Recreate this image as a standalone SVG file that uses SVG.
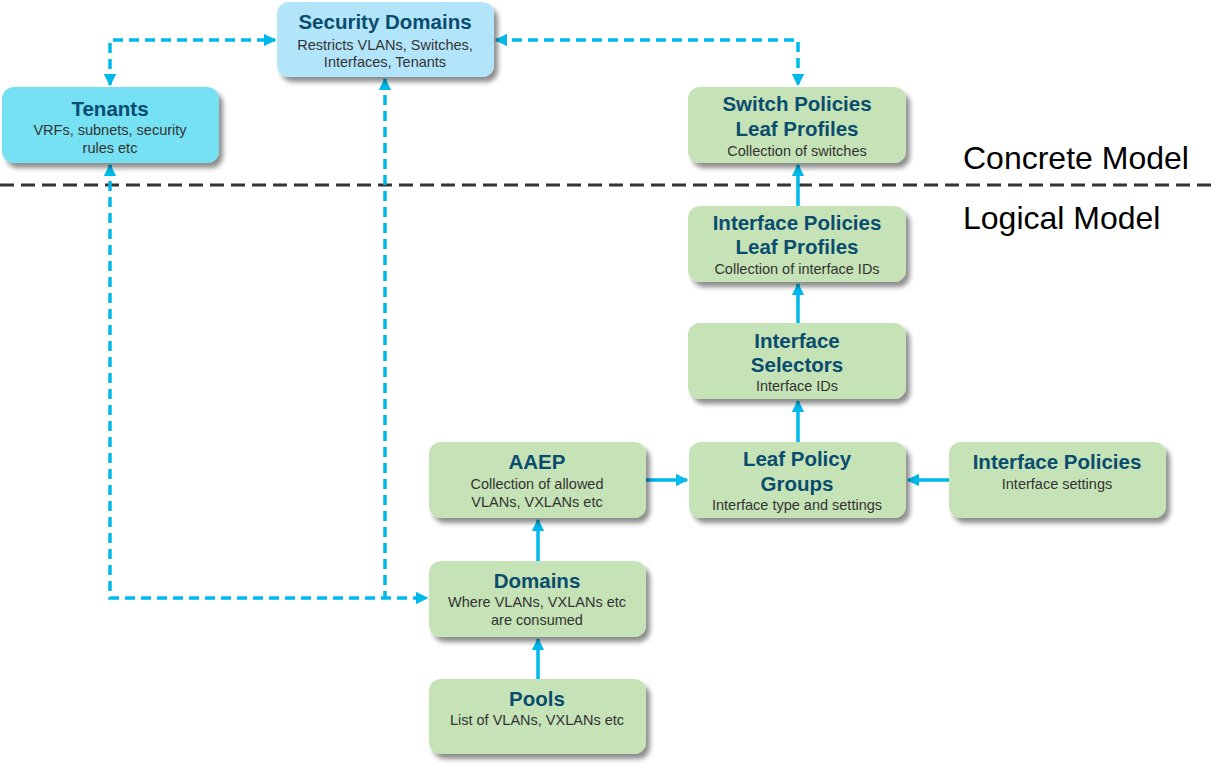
<svg xmlns="http://www.w3.org/2000/svg" width="1220" height="770" viewBox="0 0 1220 770">
<defs>
<filter id="sh" x="-10%" y="-10%" width="130%" height="140%">
<feGaussianBlur in="SourceAlpha" stdDeviation="2.5"/>
<feOffset dx="4" dy="5" result="b"/>
<feComponentTransfer><feFuncA type="linear" slope="0.45"/></feComponentTransfer>
<feMerge><feMergeNode/><feMergeNode in="SourceGraphic"/></feMerge>
</filter>
<marker id="ah" viewBox="0 0 10 10" refX="9" refY="5" markerWidth="3.6" markerHeight="3.6" orient="auto-start-reverse" markerUnits="strokeWidth">
<path d="M0,0 L10,5 L0,10 z" fill="#00B9EC"/>
</marker>
</defs>
<style>
.box{stroke:none;filter:url(#sh)}
.g{fill:#C5E3B6}
.b{fill:#B3E5FA}
.c{fill:#74E1F2}
.t{font-family:"Liberation Sans",Arial,sans-serif;font-weight:bold;font-size:20.5px;fill:#0A4C6E;text-anchor:middle}
.s{font-family:"Liberation Sans",Arial,sans-serif;font-size:14.5px;fill:#333;text-anchor:middle}
.m{font-family:"Liberation Sans",Arial,sans-serif;font-size:32px;fill:#000}
.sol{fill:none;stroke:#00B9EC;stroke-width:3.5}
.dsh{fill:none;stroke:#00B9EC;stroke-width:3.5;stroke-dasharray:10,6}
</style>
<rect width="1220" height="770" fill="#fff"/>
<line x1="0" y1="185" x2="1212" y2="185" stroke="#333" stroke-width="3" stroke-dasharray="14,7"/>
<text class="m" x="963" y="169">Concrete Model</text>
<text class="m" x="963" y="229">Logical Model</text>

<g id="connectors">
<path class="dsh" d="M110,85 L110,40 L275,40" marker-start="url(#ah)" marker-end="url(#ah)"/>
<path class="dsh" d="M496,40 L798,40 L798,85" marker-start="url(#ah)" marker-end="url(#ah)"/>
<path class="dsh" d="M110,165 L110,598 L427,598" marker-start="url(#ah)" marker-end="url(#ah)"/>
<path class="dsh" d="M385,79 L385,598" marker-start="url(#ah)"/>
<path class="sol" d="M798,206 L798,165" marker-end="url(#ah)"/>
<path class="sol" d="M798,323 L798,284" marker-end="url(#ah)"/>
<path class="sol" d="M798,442 L798,401" marker-end="url(#ah)"/>
<path class="sol" d="M646,480 L687,480" marker-end="url(#ah)"/>
<path class="sol" d="M949,480 L908,480" marker-end="url(#ah)"/>
<path class="sol" d="M538,561 L538,520" marker-end="url(#ah)"/>
<path class="sol" d="M538,679 L538,639" marker-end="url(#ah)"/>
</g>

<g id="security-domains">
<rect class="box b" x="277" y="2" width="217" height="75" rx="12"/>
<text class="t" x="385" y="29">Security Domains</text>
<text class="s" x="385" y="50">Restricts VLANs, Switches,</text>
<text class="s" x="385" y="67">Interfaces, Tenants</text>
</g>
<g id="tenants">
<rect class="box c" x="2" y="87" width="217" height="76" rx="12"/>
<text class="t" x="110" y="116">Tenants</text>
<text class="s" x="110" y="135">VRFs, subnets, security</text>
<text class="s" x="110" y="153">rules etc</text>
</g>
<g id="switch-policies">
<rect class="box g" x="688" y="87" width="218" height="76" rx="12"/>
<text class="t" x="797" y="111">Switch Policies</text>
<text class="t" x="797" y="136">Leaf Profiles</text>
<text class="s" x="797" y="156">Collection of switches</text>
</g>
<g id="interface-policies-leaf-profiles">
<rect class="box g" x="688" y="206" width="218" height="76" rx="12"/>
<text class="t" x="797" y="230">Interface Policies</text>
<text class="t" x="797" y="254">Leaf Profiles</text>
<text class="s" x="797" y="274">Collection of interface IDs</text>
</g>
<g id="interface-selectors">
<rect class="box g" x="688" y="323" width="218" height="76" rx="12"/>
<text class="t" x="797" y="348">Interface</text>
<text class="t" x="797" y="372">Selectors</text>
<text class="s" x="797" y="391">Interface IDs</text>
</g>
<g id="leaf-policy-groups">
<rect class="box g" x="689" y="442" width="217" height="76" rx="12"/>
<text class="t" x="797" y="466">Leaf Policy</text>
<text class="t" x="797" y="491">Groups</text>
<text class="s" x="797" y="510">Interface type and settings</text>
</g>
<g id="interface-policies">
<rect class="box g" x="949" y="442" width="217" height="76" rx="12"/>
<text class="t" x="1057" y="469">Interface Policies</text>
<text class="s" x="1057" y="489">Interface settings</text>
</g>
<g id="aaep">
<rect class="box g" x="429" y="442" width="217" height="76" rx="12"/>
<text class="t" x="537" y="469">AAEP</text>
<text class="s" x="537" y="489">Collection of allowed</text>
<text class="s" x="537" y="507">VLANs, VXLANs etc</text>
</g>
<g id="domains">
<rect class="box g" x="429" y="561" width="217" height="76" rx="12"/>
<text class="t" x="537" y="588">Domains</text>
<text class="s" x="537" y="607">Where VLANs, VXLANs etc</text>
<text class="s" x="537" y="625">are consumed</text>
</g>
<g id="pools">
<rect class="box g" x="429" y="679" width="217" height="75" rx="12"/>
<text class="t" x="537" y="706">Pools</text>
<text class="s" x="537" y="725">List of VLANs, VXLANs etc</text>
</g>
</svg>
